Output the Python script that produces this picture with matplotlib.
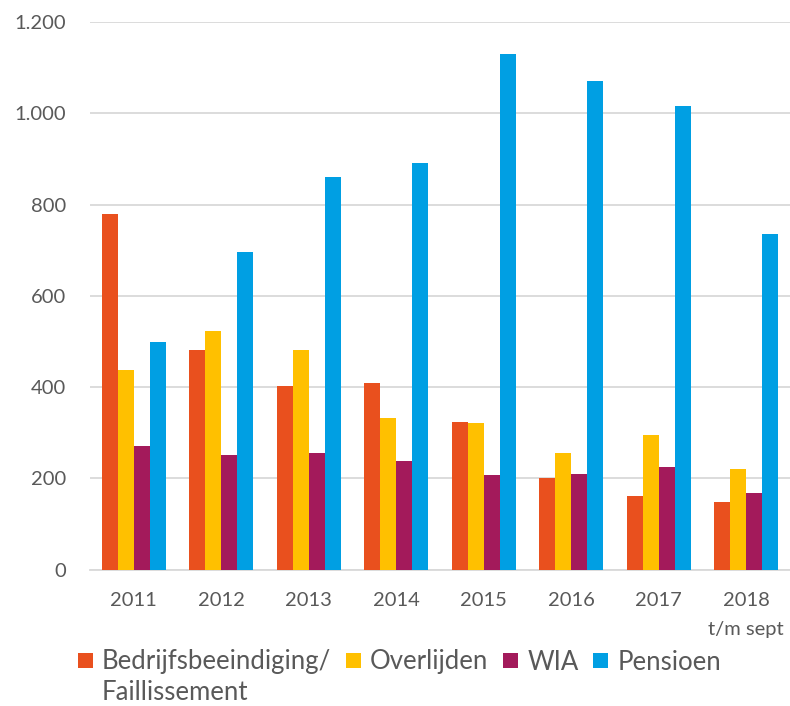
import matplotlib
matplotlib.use("Agg")
import matplotlib.pyplot as plt
import numpy as np

years = ["2011", "2012", "2013", "2014", "2015", "2016", "2017", "2018\nt/m sept"]
series_names = ["Bedrijfsbeeindiging/", "Overlijden", "WIA", "Pensioen"]
first_label_second_line = "Faillissement"
bedrijf = [780, 482, 402, 410, 323, 200, 162, 149]
overlijden = [437, 522, 481, 333, 321, 255, 295, 221]
wia = [270, 251, 255, 238, 207, 209, 226, 168]
pensioen = [498, 696, 860, 890, 1130, 1071, 1015, 736]
colors = ["#E9501E", "#FFC000", "#A31A5B", "#009FE3"]
yticks = [0, 200, 400, 600, 800, 1000, 1200]
ytick_labels = ["0", "200", "400", "600", "800", "1.000", "1.200"]

plt.rcParams['font.family'] = ['Lato', 'DejaVu Sans']
TXT = "#595959"

W, H = 790, 706
fig = plt.figure(figsize=(W / 100, H / 100), dpi=100)
ax = fig.add_axes([0.114, 0.193, 0.886, 0.776])

x = np.arange(len(years))
w = 0.183
data = [bedrijf, overlijden, wia, pensioen]
for i, (vals, c, name) in enumerate(zip(data, colors, series_names)):
    ax.bar(x + (i - 1.5) * w, vals, width=w, color=c, label=name, zorder=3)

ax.set_xlim(-0.5, len(years) - 0.5)
ax.set_ylim(0, 1200)
ax.set_yticks(yticks)
ax.set_yticklabels(ytick_labels)
ax.set_xticks(x)
ax.set_xticklabels(years, linespacing=1.85)
ax.tick_params(axis='both', length=0, labelsize=14.5, colors=TXT)
ax.tick_params(axis='y', pad=17)
ax.tick_params(axis='x', pad=16)
ax.grid(axis='y', color="#D9D9D9", linewidth=1.3, zorder=0)
for s in ["top", "right", "left"]:
    ax.spines[s].set_visible(False)
ax.spines["bottom"].set_color("#D9D9D9")
ax.spines["bottom"].set_linewidth(1.3)
ax.set_axisbelow(True)

fs = 18.5
leg = fig.legend(loc="center left", bbox_to_anchor=(78 / W, (H - 662) / H), ncol=4, frameon=False,
                 fontsize=fs, handlelength=0.58, handleheight=0.55, handletextpad=0.35,
                 columnspacing=0.58, labelcolor=TXT, borderaxespad=0, borderpad=0)

fig.canvas.draw()
bb = leg.get_texts()[0].get_window_extent()
cy = (bb.y0 + bb.y1) / 2 - 31
fig.text(bb.x0 / W, cy / H, first_label_second_line, fontsize=fs, color=TXT,
         ha="left", va="center")

fig.savefig("out.png", dpi=100)
